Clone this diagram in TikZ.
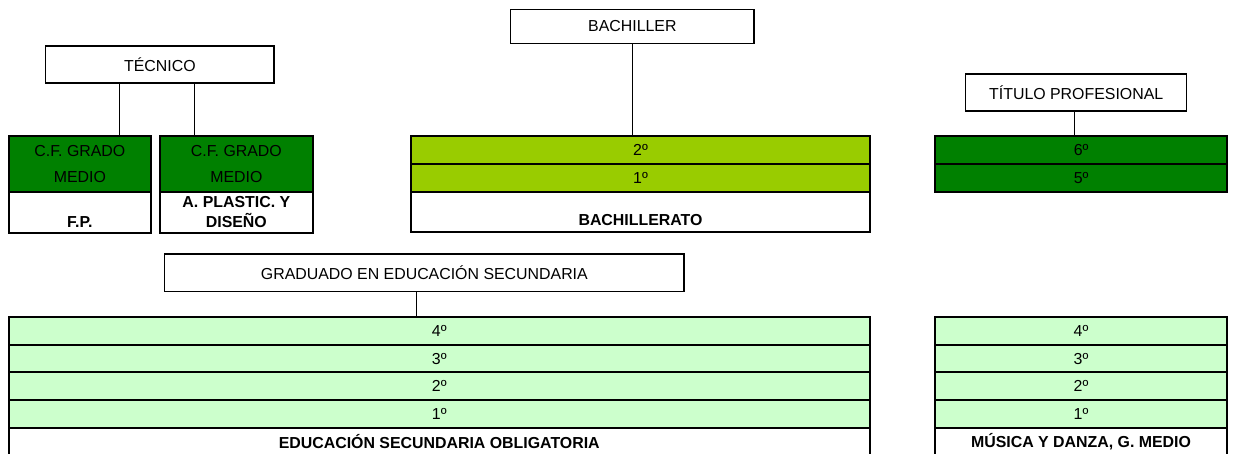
\documentclass[tikz,border=0pt]{standalone}
\usepackage{fontspec}
\setmainfont{Liberation Sans}
\usetikzlibrary{positioning}

\definecolor{darkgreen}{RGB}{0,128,0}
\definecolor{limegreen}{RGB}{153,204,0}
\definecolor{palegreen}{RGB}{204,255,204}

\tikzset{
  txt/.style={font=\fontsize{15.9}{18}\selectfont},
  titlebox/.style={txt, shape=rectangle, draw=black, line width=1.2pt, fill=white,
    minimum height=37pt, inner sep=0pt, outer sep=0pt},
  row/.style={txt, shape=rectangle, draw=black, line width=2pt, inner sep=0pt,
    outer sep=0pt, minimum height=27.7pt},
  darkrow/.style={row, fill=darkgreen},
  limerow/.style={row, fill=limegreen},
  palerow/.style={row, fill=palegreen},
  baserow/.style={row, fill=white, font=\fontsize{15.9}{18}\selectfont\bfseries},
  link/.style={draw=black, line width=1pt}
}

\begin{document}
\begin{tikzpicture}[x=1pt, y=-1pt]
\useasboundingbox (0,0) rectangle (1234,454);
\clip (0,0) rectangle (1234,454);

% titles
\node[titlebox, minimum width=228.3pt] at (159.85, 64.5) (tec) {TÉCNICO};
\node[titlebox, minimum width=243.3pt, minimum height=34.4pt] at (632.35, 26.5) (bach) {BACHILLER};
\node[titlebox, minimum width=221pt] at (1076.2, 92.5) (tit) {TÍTULO PROFESIONAL};
\node[titlebox, minimum width=519.3pt, minimum height=37.7pt] at (424.35, 272.85) (grad) {GRADUADO EN EDUCACIÓN SECUNDARIA};

% F.P.
\node[darkrow, minimum width=141.7pt, minimum height=55.7pt, align=center,
  font=\fontsize{15.9}{26.3}\selectfont] at (79.85, 163.85) (fpg) {C.F. GRADO\\MEDIO};
\node[baserow, minimum width=141.7pt, minimum height=41pt, below=0pt of fpg] (fpb) {};
\node[txt, font=\fontsize{15.9}{18}\selectfont\bfseries] at ([yshift=11pt]fpb.south) (fpt) {F.P.};

% artes plasticas
\node[darkrow, minimum width=152.7pt, minimum height=55.7pt, align=center,
  font=\fontsize{15.9}{26.3}\selectfont] at (236.35, 163.85) (apg) {C.F. GRADO\\MEDIO};
\node[baserow, minimum width=152.7pt, minimum height=41pt, align=center,
  font=\fontsize{15.9}{19.7}\selectfont\bfseries, below=0pt of apg] (apb) {A. PLASTIC. Y\\DISEÑO};

% bachillerato
\node[limerow, minimum width=459pt, minimum height=27.85pt] at (640.5, 149.9) (b2) {2º};
\node[limerow, minimum width=459pt, minimum height=27.85pt, below=0pt of b2] (b1) {1º};
\node[baserow, minimum width=459pt, minimum height=40.6pt, below=0pt of b1] (bb) {};
\node[txt, font=\fontsize{15.9}{18}\selectfont\bfseries] at ([yshift=12.3pt]bb.south) (bt) {BACHILLERATO};

% titulo profesional
\node[darkrow, minimum width=292.3pt, minimum height=27.85pt] at (1081.15, 149.9) (t6) {6º};
\node[darkrow, minimum width=292.3pt, minimum height=27.85pt, below=0pt of t6] (t5) {5º};

% ESO
\node[palerow, minimum width=860.5pt] at (439.25, 330.85) (e4) {4º};
\node[palerow, minimum width=860.5pt, below=0pt of e4] (e3) {3º};
\node[palerow, minimum width=860.5pt, below=0pt of e3] (e2) {2º};
\node[palerow, minimum width=860.5pt, below=0pt of e2] (e1) {1º};
\node[baserow, minimum width=860.5pt, below=0pt of e1] (eb) {EDUCACIÓN SECUNDARIA OBLIGATORIA};

% musica y danza
\node[palerow, minimum width=292.6pt] at (1081, 330.85) (m4) {4º};
\node[palerow, minimum width=292.6pt, below=0pt of m4] (m3) {3º};
\node[palerow, minimum width=292.6pt, below=0pt of m3] (m2) {2º};
\node[palerow, minimum width=292.6pt, below=0pt of m2] (m1) {1º};
\node[baserow, minimum width=292.6pt, below=0pt of m1] (mb) {MÚSICA Y DANZA, G. MEDIO};

% links
\draw[link] ([xshift=-40pt]tec.south) -- ([xshift=-40pt]tec.south |- fpg.north);
\draw[link] ([xshift=35pt]tec.south) -- ([xshift=35pt]tec.south |- apg.north);
\draw[link] (bach.south) -- (bach.south |- b2.north);
\draw[link] ([xshift=-2pt]tit.south) -- ([xshift=-2pt]tit.south |- t6.north);
\draw[link] ([xshift=-8pt]grad.south) -- ([xshift=-8pt]grad.south |- e4.north);
\end{tikzpicture}
\end{document}
